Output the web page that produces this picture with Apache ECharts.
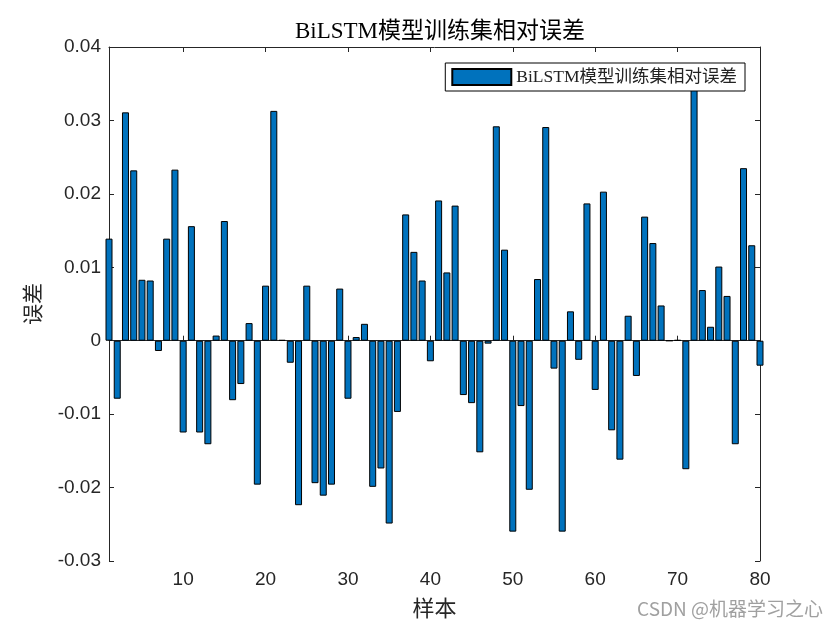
<!DOCTYPE html>
<html>
<head>
<meta charset="utf-8">
<script src="https://cdn.jsdelivr.net/npm/echarts@6/dist/echarts.min.js"></script>
<style>html,body{margin:0;padding:0;background:#fff;}#c{width:840px;height:630px;}</style>
</head>
<body>
<div id="c"></div>
<script>
const titleText = 'BiLSTM模型训练集相对误差';
const seriesName = 'BiLSTM模型训练集相对误差';
const xLabel = '样本';
const yLabel = '误差';
const samples = Array.from({length: 80}, (_, i) => i + 1);
const errors = [
  0.0139, -0.0079, 0.0311, 0.0232, 0.0083, 0.0082, -0.0014, 0.0139, 0.0233, -0.0125,
  0.0156, -0.0125, -0.0141, 0.0007, 0.0163, -0.0081, -0.0059, 0.0024, -0.0196, 0.0075,
  0.0313, 0.0001, -0.0030, -0.0224, 0.0075, -0.0194, -0.0211, -0.0196, 0.0071, -0.0079,
  0.0005, 0.0023, -0.0199, -0.0174, -0.0249, -0.0097, 0.0172, 0.0121, 0.0082, -0.0028,
  0.0191, 0.0093, 0.0184, -0.0074, -0.0085, -0.0152, -0.0004, 0.0292, 0.0124, -0.0260,
  -0.0089, -0.0203, 0.0084, 0.0291, -0.0038, -0.0260, 0.0040, -0.0026, 0.0187, -0.0067,
  0.0203, -0.0122, -0.0162, 0.0034, -0.0048, 0.0169, 0.0133, 0.0048, 0.0000, 0.0001,
  -0.0175, 0.0355, 0.0069, 0.0019, 0.0101, 0.0061, -0.0141, 0.0235, 0.0130, -0.0034
];
const xTicks = [10, 20, 30, 40, 50, 60, 70, 80];
const yMin = -0.03, yMax = 0.04, yStep = 0.01;

const axisColor = '#262626';
const tickFont = {fontFamily: 'Liberation Sans, Arial, sans-serif', fontSize: 19, color: axisColor};
const serif = 'Liberation Serif, Times New Roman, Noto Sans CJK SC, serif';

const chart = echarts.init(document.getElementById('c'), null, {renderer: 'canvas'});
const yFmt = v => Math.abs(v) < 1e-9 ? '0' : v.toFixed(2);
chart.setOption({
  animation: false,
  backgroundColor: '#fff',
  title: {
    text: titleText, left: 435, top: 15, textAlign: 'center',
    textStyle: {fontFamily: serif, fontSize: 23, fontWeight: 'normal', color: '#000'}
  },
  legend: {
    data: [seriesName], right: 95, top: 63,
    itemWidth: 59, itemHeight: 16, itemGap: 4,
    padding: [5, 8, 5, 6],
    borderColor: '#000', borderWidth: 1, backgroundColor: '#fff',
    textStyle: {fontFamily: serif, fontSize: 17.5, color: '#222'},
    icon: 'rect'
  },
  grid: {left: 109, right: 80, top: 47, bottom: 69, containLabel: false},
  xAxis: [{
    type: 'value', min: 1, max: 80, position: 'bottom',
    name: xLabel, nameLocation: 'middle', nameGap: 38,
    nameTextStyle: {fontFamily: serif, fontSize: 22, color: axisColor},
    axisLine: {show: true, lineStyle: {color: axisColor, width: 1}},
    axisTick: {show: true, inside: true, length: 5, customValues: xTicks, lineStyle: {color: axisColor}},
    axisLabel: {customValues: xTicks, margin: 9, ...tickFont},
    splitLine: {show: false}
  }, {
    type: 'value', min: 1, max: 80, position: 'top',
    axisLine: {show: true, onZero: false, lineStyle: {color: axisColor, width: 1}},
    axisTick: {show: true, inside: true, length: 5, customValues: xTicks, lineStyle: {color: axisColor}},
    axisLabel: {show: false},
    splitLine: {show: false}
  }],
  yAxis: [{
    type: 'value', min: yMin, max: yMax, interval: yStep, position: 'left',
    name: yLabel, nameLocation: 'middle', nameGap: 64,
    nameTextStyle: {fontFamily: serif, fontSize: 21, color: axisColor},
    axisLine: {show: true, onZero: false, lineStyle: {color: axisColor, width: 1}},
    axisTick: {show: true, inside: true, length: 5, lineStyle: {color: axisColor}},
    axisLabel: {formatter: yFmt, margin: 8, ...tickFont},
    splitLine: {show: false}
  }, {
    type: 'value', min: yMin, max: yMax, interval: yStep, position: 'right',
    axisLine: {show: true, onZero: false, lineStyle: {color: axisColor, width: 1}},
    axisTick: {show: true, inside: true, length: 5, lineStyle: {color: axisColor}},
    axisLabel: {show: false},
    splitLine: {show: false}
  }],
  graphic: [{
    type: 'text', right: 17, top: 599,
    style: {text: 'CSDN @机器学习之心', fontFamily: 'Noto Sans CJK SC, sans-serif', fontSize: 19, fill: '#a0a0a0'}
  }],
  series: [{
    name: seriesName, type: 'bar', xAxisIndex: 0, yAxisIndex: 0,
    barWidth: 7, clip: true,
    itemStyle: {color: '#0072BD', borderColor: '#000', borderWidth: 1},
    data: samples.map((s, i) => [s, errors[i]])
  }]
});
</script>
</body>
</html>
